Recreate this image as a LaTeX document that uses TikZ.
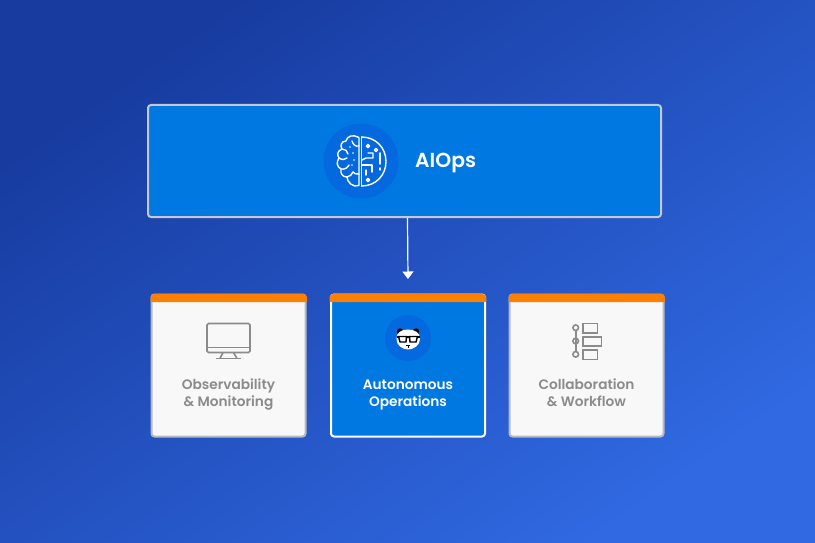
\documentclass[tikz,border=0pt]{standalone}
\usepackage{fontspec}
\setmainfont{Poppins SemiBold}
\usetikzlibrary{calc,arrows.meta}
\definecolor{bluefill}{HTML}{0078E1}
\definecolor{blueround}{HTML}{0468DE}
\definecolor{stripe}{HTML}{FF7F00}
\definecolor{cardfill}{HTML}{F8F8F8}
\definecolor{cardedge}{HTML}{B7BAC2}
\definecolor{icongray}{HTML}{8B8B8B}
\definecolor{bgdark}{HTML}{173B9F}
\definecolor{bglight}{HTML}{3069E2}
\tikzset{
	cardbox/.style={draw=cardedge, line width=2pt, fill=cardfill, rounded corners=3pt, minimum width=154pt, minimum height=142pt, inner sep=0pt},
	cardtext/.style={align=center, font=\fontsize{13.7}{17}\selectfont, text=icongray, inner sep=0pt},
	iconline/.style={draw=icongray, line width=1.6pt},
	brainline/.style={draw=white, line width=1.4pt, line cap=round, line join=round}
}
\begin{document}
\begin{tikzpicture}[x=1pt, y=-1pt]
	%%%%% BACKGROUND %%%%%
	\useasboundingbox (0, 0) rectangle (815, 543);
	\shade[left color=bgdark, right color=bglight, shading angle=35] (0, 0) rectangle (815, 543);

	%%%%% TOP BOX %%%%%
	\node[draw=cardedge!80!white, line width=2pt, fill=bluefill, rounded corners=3pt, minimum width=513pt, minimum height=112pt] (aiops) at (404.5, 161) {};
	\fill[blueround] (361, 161) circle (37.5);
	\node[font=\fontsize{20.3}{20}\selectfont, text=white, anchor=west, inner sep=0pt] (aiopstext) at (415, 163) {AIOps};

	% brain, right half
	\draw[brainline] (361.5, 137) -- (361.5, 186);
	\draw[brainline] (361.5, 137) .. controls (376, 137) and (386, 148) .. (386, 161.5) .. controls (386, 175) and (376, 186) .. (361.5, 186);
	\draw[brainline] (368, 153) -- (373, 153) -- (373, 158) -- (366, 158) -- (362, 160);
	\draw[brainline] (362, 165) -- (372, 165) -- (372, 172);
	\draw[brainline] (380, 153) -- (380, 164);
	\draw[brainline] (380, 168) -- (380, 170);
	\draw[brainline] (366, 170) -- (366, 175);
	\draw[brainline] (368, 146) circle (1.6);
	\draw[brainline] (376, 150) circle (1.6);
	\draw[brainline] (368, 180) circle (1.6);
	% brain, left half
	\draw[brainline] (359, 137.5) .. controls (353, 134) and (347, 136) .. (346, 141) .. controls (341, 141) and (340, 146) .. (342, 149) .. controls (337, 151) and (337, 155) .. (339, 158) .. controls (336, 162) and (337, 167) .. (341, 169) .. controls (340, 174) and (343, 177) .. (347, 177) .. controls (347, 182) and (353, 188) .. (359, 185.5) -- (359, 137.5);
	\draw[brainline] (359, 146) .. controls (355, 147) and (353, 144) .. (352, 141);
	\draw[brainline] (342, 149) .. controls (345, 149) and (348, 151) .. (348, 154);
	\draw[brainline] (339, 158) .. controls (342, 160) and (345, 160) .. (347, 158);
	\draw[brainline] (341, 169) .. controls (345, 170) and (348, 167) .. (349, 165);
	\draw[brainline] (347, 177) .. controls (350, 176) and (352, 175) .. (353, 172);
	\draw[brainline] (359, 174) .. controls (356, 175) and (354, 173) .. (353, 172);
	\fill[white] (354, 160) circle (0.9) (350, 147) circle (0.8) (353, 153) circle (0.8) (352, 165) circle (0.8);

	%%%%% CARDS %%%%%
	\node[cardbox] (observe) at (228.5, 365.5) {};
	\node[cardbox, draw=white, fill=bluefill] (autonomous) at (408, 365.5) {};
	\node[cardbox] (collab) at (586.5, 365.5) {};
	\foreach \cx in {150.5, 329.5, 508.5}{
		\fill[stripe] (\cx, 302) [rounded corners=3.5pt] -- ++(0, -8) -- ++(156.5, 0) [sharp corners] -- ++(0, 8) -- cycle;
	}
	\node[cardtext] (observetext) at (228.5, 394.5) {\strut Observability\\\strut\& Monitoring};
	\node[cardtext, text=white] (autonomoustext) at (408, 394.5) {\strut Autonomous\\\strut Operations};
	\node[cardtext] (collabtext) at (586.5, 394.5) {\strut Collaboration\\\strut\& Workflow};

	% monitor
	\draw[iconline, rounded corners=1.5pt] (207, 323.5) rectangle (250, 352.5);
	\draw[iconline] (207, 347.3) -- (250, 347.3);
	\draw[iconline] (223, 352.5) -- (220, 358.5) (233.5, 352.5) -- (237, 358.5);
	\draw[iconline] (216, 358.5) -- (241, 358.5);

	% workflow
	\draw[iconline] (575.7, 330.7) -- (575.7, 351.3);
	\foreach \cy in {327.7, 341, 354.3}{
		\draw[iconline] (575.7, \cy) circle (2.8);
	}
	\draw[iconline] (583, 323.5) rectangle (597.3, 332.7);
	\draw[iconline] (583, 336.7) rectangle (601.3, 346);
	\draw[iconline] (583, 350) rectangle (597.3, 359.3);

	% panda
	\fill[blueround] (408, 338) circle (23);
	\fill[black] (400, 331.5) circle (3.2) (416, 331.5) circle (3.2);
	\fill[white] (396.5, 339) .. controls (396, 333) and (401, 329.5) .. (408, 329.5) .. controls (415, 329.5) and (420.5, 333) .. (420, 339) .. controls (420, 345) and (414, 349.5) .. (408, 349.5) .. controls (402, 349.5) and (396.5, 345) .. (396.5, 339) -- cycle;
	\fill[black] (396.5, 335.5) rectangle (420, 337.5);
	\draw[black, line width=1.4pt, fill=white] (398.5, 336.5) -- (406.5, 336.5) -- (406, 342) -- (400, 342) -- cycle;
	\draw[black, line width=1.4pt, fill=white] (409.5, 336.5) -- (417.5, 336.5) -- (416, 342) -- (410, 342) -- cycle;
	\fill[black] (406.2, 344.5) rectangle (409.8, 346);
	\draw[black, line width=0.5pt] (408, 346) -- (408, 348);

	%%%%% ARROW %%%%%
	\coordinate (arrowend) at (408, 279);
	\draw[white, line width=1.2pt, -{Triangle[length=7.5pt, width=11pt]}] ($(aiops.south)+(3, 0)$) -- (arrowend);
\end{tikzpicture}
\end{document}
